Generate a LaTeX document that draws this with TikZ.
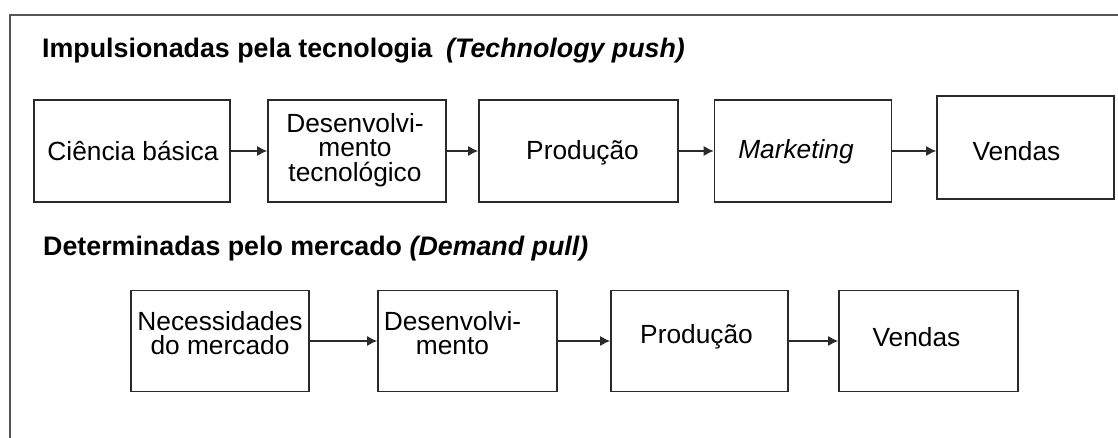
\documentclass[tikz,border=0pt]{standalone}
\usepackage{fontspec}
\setmainfont{Liberation Sans}
\usetikzlibrary{arrows.meta}
\definecolor{boxc}{HTML}{2A2A2A}
\definecolor{framec}{HTML}{555555}
\tikzset{
  box/.style={draw=boxc, line width=1.6pt, minimum height=102pt, inner sep=0pt},
  boxtxt/.style={font=\fontsize{26.3}{24.5}\selectfont, align=center, inner sep=0pt},
  flow/.style={-{Latex[length=10pt,width=10pt]}, line width=1.4pt, draw=boxc},
  heading/.style={font=\fontsize{26.8}{30}\selectfont\bfseries, anchor=base west, inner sep=0pt}
}
\begin{document}
\begin{tikzpicture}[x=1pt,y=-1pt]
  \useasboundingbox (0,0) rectangle (1118,438);
  \fill[white] (0,0) rectangle (1118,438);
  % open frame: only the top and left edges are visible
  \draw[framec, line width=2pt] (10,438) -- (10,15) -- (1118,15);

  % headings
  \node[heading] (h1) at (42,58) {Impulsionadas pela tecnologia};
  \node[heading] (h1e) at (446,58) {\itshape (Technology push)};
  \node[heading] (h2) at (43,255) {Determinadas pelo mercado \textit{(Demand pull)}};

  % technology push chain
  \node[box, minimum width=196pt] (b1) at (132,151) {};
  \node[box, minimum width=178pt] (b2) at (357,151) {};
  \node[box, minimum width=199pt] (b3) at (578.5,151) {};
  \node[box, minimum width=177pt] (b4) at (803,151) {};
  \node[box, minimum width=177pt, minimum height=103pt] (b5) at (1025.5,147.5) {};

  \node[boxtxt] (t1) at ([xshift=1pt]b1.center) {Ciência básica};
  \node[boxtxt] (t2) at ([xshift=-2pt,yshift=1pt]b2.center) {Desenvolvi-\\mento\\tecnológico};
  \node[boxtxt] (t3) at ([xshift=4pt,yshift=-2pt]b3.center) {Produção};
  \node[boxtxt] (t4) at ([xshift=-7pt,yshift=-1pt]b4.center) {\itshape Marketing};
  \node[boxtxt] (t5) at ([xshift=-9pt,yshift=-4pt]b5.center) {Vendas};

  \draw[flow] (b1.east) -- (b2.west |- b1.east);
  \draw[flow] (b2.east) -- (b3.west |- b2.east);
  \draw[flow] (b3.east) -- (b4.west |- b3.east);
  \draw[flow] (b4.east) -- (b5.west |- b4.east);

  % demand pull chain
  \node[box, minimum width=178pt, minimum height=101pt] (n1) at (220,341) {};
  \node[box, minimum width=179pt, minimum height=101pt] (n2) at (467.5,341) {};
  \node[box, minimum width=177pt, minimum height=101pt] (n3) at (699.5,341) {};
  \node[box, minimum width=179pt, minimum height=101pt] (n4) at (928.5,341) {};

  \node[boxtxt] (u1) at ([yshift=8pt]n1.center) {Necessidades\\do mercado};
  \node[boxtxt] (u2) at ([xshift=-15pt,yshift=8pt]n2.center) {Desenvolvi-\\mento};
  \node[boxtxt] (u3) at ([xshift=-3pt,yshift=4pt]n3.center) {Produção};
  \node[boxtxt] (u4) at ([xshift=-12pt,yshift=4pt]n4.center) {Vendas};

  \draw[flow] (n1.east) -- (n2.west);
  \draw[flow] (n2.east) -- (n3.west);
  \draw[flow] (n3.east) -- (n4.west);
\end{tikzpicture}
\end{document}
